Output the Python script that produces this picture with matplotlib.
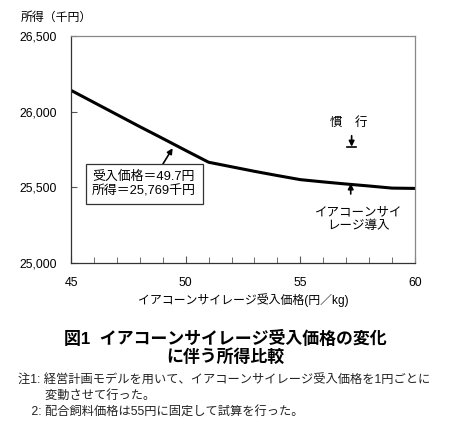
import numpy as np
import matplotlib
matplotlib.use("Agg")
import matplotlib.pyplot as plt
from matplotlib.ticker import MultipleLocator, FuncFormatter

plt.rcParams['font.family'] = ['Liberation Sans', 'Noto Sans CJK JP']

# data
price = [45, 46, 47, 48, 49, 50, 51, 52, 53, 54, 55, 56, 57, 58, 59, 60]
income = [26140, 26060, 25980, 25900, 25822, 25743, 25665, 25635, 25605,
          25577, 25550, 25535, 25521, 25508, 25494, 25492]
x_ticks = [45, 50, 55, 60]
y_ticks = [25000, 25500, 26000, 26500]

fig = plt.figure(figsize=(4.5, 4.33), dpi=100)
ax = fig.add_axes([0.158, 0.393, 0.764, 0.524])

ax.plot(price, income, color='black', lw=2.2, solid_joinstyle='round')

ax.set_xlim(45, 60)
ax.set_ylim(25000, 26500)
ax.set_xticks(x_ticks)
ax.set_yticks(y_ticks)
ax.xaxis.set_minor_locator(MultipleLocator(1))
ax.yaxis.set_major_formatter(FuncFormatter(lambda v, p: f"{int(v):,}"))
ax.tick_params(axis='both', which='both', direction='in', labelsize=8.8,
               color='#555555')
ax.tick_params(axis='x', which='major', length=5, pad=10)
ax.tick_params(axis='x', which='minor', length=4)
ax.tick_params(axis='y', which='major', length=4, pad=10)
for s in ax.spines.values():
    s.set_color('#888888')
    s.set_linewidth(0.9)
ax.spines['left'].set_color('#333333')
ax.spines['bottom'].set_color('#333333')

ax.set_xlabel('イアコーンサイレージ受入価格(円／kg)', fontsize=8.6, labelpad=3)
fig.text(0.045, 0.958, '所得（千円）', fontsize=8.6, va='center', ha='left')

# annotation box
ax.annotate('受入価格＝49.7円\n所得＝25,769千円', xy=(49.43, 25758), xytext=(45.92, 25520),
            fontsize=9.3, va='center', ha='left', linespacing=1.2,
            bbox=dict(boxstyle='square,pad=0.5', fc='white', ec='#333333', lw=0.9),
            arrowprops=dict(arrowstyle='-|>', color='black', lw=1.2,
                            mutation_scale=8, shrinkA=0, shrinkB=0,
                            relpos=(0.64, 1.0)))

# 慣行 marker
ax.annotate('', xy=(57.24, 25768), xytext=(57.24, 25840),
            arrowprops=dict(arrowstyle='-|>', color='black', lw=1.2,
                            mutation_scale=8, shrinkA=0, shrinkB=0))
ax.plot([57.05, 57.43], [25768, 25768], color='black', lw=1.2)
ax.text(57.1, 25925, '慣　行', fontsize=9, ha='center', va='center')

# イアコーンサイレージ導入 marker
ax.annotate('', xy=(57.2, 25525), xytext=(57.2, 25455),
            arrowprops=dict(arrowstyle='-|>', color='black', lw=1.2,
                            mutation_scale=8, shrinkA=0, shrinkB=0))
ax.text(57.53, 25290, 'イアコーンサイ\nレージ導入', fontsize=9, ha='center', va='center',
        linespacing=1.25)

fig.text(0.5, 0.198, '図1  イアコーンサイレージ受入価格の変化\nに伴う所得比較',
         fontsize=12.2, ha='center', va='center', linespacing=1.05, fontweight='bold')

fig.text(0.04, 0.085, '注1: 経営計画モデルを用いて、イアコーンサイレージ受入価格を1円ごとに\n'
         '        変動させて行った。\n'
         '    2: 配合飼料価格は55円に固定して試算を行った。',
         fontsize=8.8, ha='left', va='center', linespacing=1.35, color='#222222')

fig.savefig('out.png', dpi=100)
